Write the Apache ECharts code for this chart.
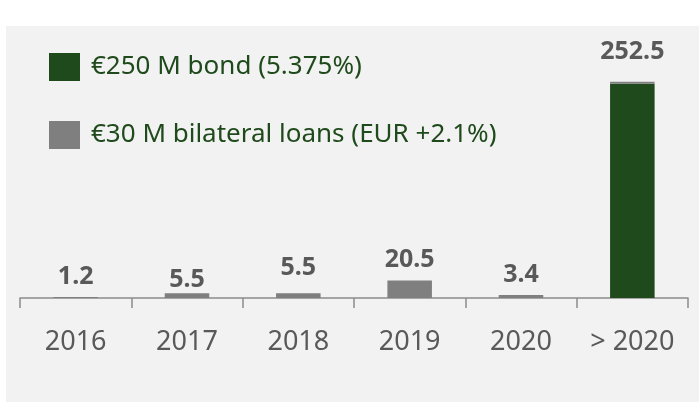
<!DOCTYPE html>
<html>
<head>
<meta charset="utf-8">
<script src="https://cdn.jsdelivr.net/npm/echarts@6/dist/echarts.min.js"></script>
<style>
  html, body { margin: 0; padding: 0; background: #ffffff; }
  #main { width: 699px; height: 402px; }
</style>
</head>
<body>
<div id="main"></div>
<script>
// categories and maturities (EUR M)
var years = ['2016', '2017', '2018', '2019', '2020', '> 2020'];
var bondValues = [0, 0, 0, 0, 0, 250];
var loanValues = [1.2, 5.5, 5.5, 20.5, 3.4, 2.5];
var seriesNames = ['€250 M bond (5.375%)', '€30 M bilateral loans (EUR +2.1%)'];

var green = '#1f4a1b';
var grey = '#7f7f7f';
var textGrey = '#595959';
var font = '"Noto Sans", "Open Sans", sans-serif';

// hand-placed label gaps, as in the original slide
var labelGap = [8, 1, 13, 8, 8, 17];

var chart = echarts.init(document.getElementById('main'));

var loanData = loanValues.map(function (v, i) {
  return {
    value: v,
    label: { distance: labelGap[i] }
  };
});

var option = {
  animation: false,
  graphic: [{
    type: 'rect',
    z: -10,
    silent: true,
    shape: { x: 6, y: 26, width: 693, height: 376 },
    style: { fill: '#f2f2f2' }
  }],
  legend: {
    orient: 'vertical',
    left: 49,
    top: 53,
    padding: 0,
    itemWidth: 31,
    itemHeight: 28,
    itemGap: 40,
    icon: 'rect',
    data: seriesNames,
    textStyle: {
      color: green,
      fontSize: 26,
      fontFamily: font,
      padding: [0, 0, 0, 6]
    }
  },
  grid: { left: 20, right: 11, top: 41, bottom: 104 },
  xAxis: {
    type: 'category',
    data: years,
    axisLine: { lineStyle: { color: '#8c8c8c', width: 1.5 } },
    axisTick: { show: true, length: 10, lineStyle: { color: '#8c8c8c', width: 1.5 } },
    axisLabel: { color: textGrey, fontSize: 27, fontFamily: font, margin: 31 }
  },
  yAxis: {
    type: 'value',
    min: 0,
    max: 300,
    show: false,
    splitLine: { show: false }
  },
  series: [
    {
      name: seriesNames[0],
      type: 'bar',
      stack: 'debt',
      barWidth: '40%',
      itemStyle: { color: green },
      data: bondValues
    },
    {
      name: seriesNames[1],
      type: 'bar',
      stack: 'debt',
      barWidth: '40%',
      itemStyle: { color: grey },
      label: {
        show: true,
        position: 'top',
        color: textGrey,
        fontSize: 25,
        fontWeight: 'bold',
        fontFamily: font,
        formatter: function (p) {
          var total = bondValues[p.dataIndex] + loanValues[p.dataIndex];
          return (Math.round(total * 10) / 10).toFixed(1);
        }
      },
      data: loanData
    }
  ]
};

chart.setOption(option);
</script>
</body>
</html>
